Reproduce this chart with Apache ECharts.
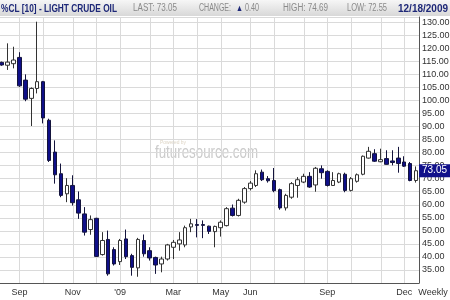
<!DOCTYPE html>
<html><head><meta charset="utf-8">
<script src="https://cdn.jsdelivr.net/npm/echarts@6/dist/echarts.min.js"></script>
<style>html,body{margin:0;padding:0;background:#fff}#c{width:450px;height:300px}</style>
</head><body><div id="c"></div>
<script>
// Weekly bars (week-ending Friday)
const weeks = [
 '2008-08-15','2008-08-22','2008-08-29','2008-09-05','2008-09-12','2008-09-19','2008-09-26',
 '2008-10-03','2008-10-10','2008-10-17','2008-10-24','2008-10-31','2008-11-07','2008-11-14',
 '2008-11-21','2008-11-28','2008-12-05','2008-12-12','2008-12-19','2008-12-26','2009-01-02',
 '2009-01-09','2009-01-16','2009-01-23','2009-01-30','2009-02-06','2009-02-13','2009-02-20',
 '2009-02-27','2009-03-06','2009-03-13','2009-03-20','2009-03-27','2009-04-03','2009-04-10',
 '2009-04-17','2009-04-24','2009-05-01','2009-05-08','2009-05-15','2009-05-22','2009-05-29',
 '2009-06-05','2009-06-12','2009-06-19','2009-06-26','2009-07-03','2009-07-10','2009-07-17',
 '2009-07-24','2009-07-31','2009-08-07','2009-08-14','2009-08-21','2009-08-28','2009-09-04',
 '2009-09-11','2009-09-18','2009-09-25','2009-10-02','2009-10-09','2009-10-16','2009-10-23',
 '2009-10-30','2009-11-06','2009-11-13','2009-11-20','2009-11-27','2009-12-04','2009-12-11',
 '2009-12-18'];
const openP = [114.6,113.5,114.1,116.5,107.8,100.8,104.6,107.2,92.4,80.2,71.9,64.2,67.4,61.9,56.5,50.5,54.8,40.9,46.7,42.8,
 38.2,46.9,40.5,35.8,46.3,42.4,39.8,37.3,39.2,43.7,45.0,44.6,51.5,52.4,52.4,51.8,49.7,51.2,52.0,58.7,
 55.9,61.0,66.2,67.4,72.5,70.0,69.3,65.8,58.8,62.9,67.4,68.7,70.9,67.6,73.8,72.8,67.4,68.7,71.7,65.5,
 69.0,71.7,77.9,79.6,76.5,77.7,76.8,77.9,76.4,75.8,69.3];
const closeP = [113.6,114.7,115.5,105.6,100.5,104.6,107.2,93.3,77.0,71.5,63.6,67.4,60.8,56.8,49.5,54.3,40.2,46.3,33.5,37.3,
 46.3,40.1,36.0,46.7,41.2,39.6,36.9,39.2,44.6,45.6,46.5,51.2,52.7,52.1,52.1,49.8,51.7,53.3,58.5,55.9,
 61.7,66.2,68.3,71.9,69.6,69.2,65.4,58.8,63.6,68.1,69.6,70.9,66.8,74.0,72.3,67.4,69.3,71.9,65.5,70.0,
 71.5,78.6,80.5,76.7,77.3,75.5,76.2,75.8,74.8,69.3,73.05];
const lowP = [113.3,111.7,112.3,105.2,99.7,90.2,102.7,91.2,76.4,68.1,62.9,61.0,59.7,54.6,48.2,48.5,40.0,40.5,32.8,36.7,
 36.9,39.2,32.8,32.4,40.1,38.6,33.5,34.1,38.6,39.2,42.4,43.7,49.5,47.5,47.2,48.8,43.7,47.8,51.7,55.5,
 55.5,60.4,65.5,66.8,69.1,68.5,64.8,58.1,57.8,62.3,62.7,68.3,66.5,65.0,70.0,67.0,67.2,68.3,64.8,65.1,
 68.5,71.3,77.7,76.4,76.3,75.4,75.1,72.3,74.5,69.0,68.5];
const highP = [114.9,121.9,120.6,118.5,110.0,105.0,130.2,107.5,93.0,84.7,75.8,70.2,71.3,65.1,59.1,55.9,55.0,49.5,50.1,43.7,
 46.9,50.5,41.2,47.3,48.6,43.7,40.1,40.1,45.0,46.5,49.5,52.0,54.6,54.5,54.0,52.0,52.0,54.0,59.1,60.1,
 62.3,66.8,69.1,73.2,73.5,71.0,74.1,66.2,64.2,68.7,70.6,71.9,72.5,74.5,75.1,73.2,72.5,72.3,72.3,70.6,
 72.0,78.9,82.2,81.3,81.5,80.9,80.9,82.2,78.6,76.4,74.7];
// x tick labels
const labelWeeks = ['2008-09-05','2008-11-07','2009-01-02','2009-03-06','2009-05-01','2009-06-05','2009-09-04','2009-12-04'];
const labelTexts = ['Sep','Nov',"'09",'Mar','May','Jun','Sep','Dec'];
// y ticks
const yMin = 30, yMax = 132, yStep = 5;
const lastPrice = 73.05;

// vertical grid at the first week of each month (category indices)
const gridIdx = [];
weeks.forEach((w, i) => { if (i > 0 && w.slice(5, 7) !== weeks[i - 1].slice(5, 7)) gridIdx.push(i); });

const mctx = document.createElement('canvas').getContext('2d');
function fitScale(text, font, width) { mctx.font = font; return width / mctx.measureText(text).width; }
function txt(text, x, w, font, fill, y) {
  return { type: 'text', x: x, y: y == null ? 8.5 : y, scaleX: fitScale(text, font, w), z: 10,
    style: { text: text, font: font, fill: fill, verticalAlign: 'middle' } };
}
const F = '"Liberation Sans", Arial, sans-serif';
const navy = '#1e2878';
const grey = '#8a8a8a';
const gridColor = '#dadada';

const chart = echarts.init(document.getElementById('c'), null, { renderer: 'canvas' });
chart.setOption({
  animation: false,
  backgroundColor: '#ffffff',
  grid: { left: -1.26, right: 31, top: 17, bottom: 17, containLabel: false, outerBoundsMode: 'none' },
  xAxis: {
    type: 'category', data: weeks, boundaryGap: true,
    axisLine: { show: true, lineStyle: { color: '#555', width: 1 } },
    axisTick: { show: false },
    splitLine: { show: false },
    axisLabel: {
      interval: (idx, val) => labelWeeks.indexOf(weeks[idx]) >= 0,
      formatter: (val) => labelTexts[labelWeeks.indexOf(val)],
      color: '#333', fontSize: 9, fontFamily: 'Liberation Sans', margin: 5
    }
  },
  yAxis: {
    type: 'value', position: 'right', min: yMin, max: yMax, interval: yStep,
    axisLine: { show: true, lineStyle: { color: '#555', width: 1 } },
    axisTick: { show: false },
    splitLine: { show: true, lineStyle: { color: gridColor, width: 1 } },
    axisLabel: { formatter: v => v.toFixed(2), color: '#333', fontSize: 9, fontFamily: 'Liberation Sans',
      margin: 3, showMaxLabel: false, showMinLabel: false }
  },
  series: [
    {
      type: 'custom', z: 1, silent: true, clip: false,
      data: gridIdx.map(i => [i, yMin]),
      encode: { x: 0, y: 1 },
      renderItem: (params, api) => {
        const bottom = api.coord([api.value(0), yMin]);
        const top = api.coord([api.value(0), yMax]);
        return { type: 'rect', shape: { x: Math.round(bottom[0]), y: top[1], width: 1, height: bottom[1] - top[1] },
          style: { fill: gridColor } };
      }
    },
    {
      type: 'candlestick', z: 2, clip: false, barWidth: 4,
      data: weeks.map((w, i) => [openP[i], closeP[i], lowP[i], highP[i]]),
      itemStyle: { color: '#ffffff', color0: '#0f0f88', borderColor: '#333333', borderColor0: '#14143c', borderWidth: 1 },
      markLine: { symbol: 'none', silent: true, z: 5, animation: false,
        emphasis: { disabled: true },
        data: [{ yAxis: lastPrice, lineStyle: { color: 'rgba(0,0,0,0)', width: 0 },
          label: { show: true, position: 'end', formatter: lastPrice.toFixed(2), color: '#ffffff', backgroundColor: '#11118a',
            padding: [2, 8, 1, 3], fontSize: 10, fontFamily: 'Liberation Sans', distance: 0 } }] }
    }
  ],
  graphic: [
    { type: 'rect', shape: { x: 0, y: 0, width: 450, height: 16 }, z: 9,
      style: { fill: new echarts.graphic.LinearGradient(0, 0, 0, 1, [
        { offset: 0, color: '#f6f6f6' }, { offset: 1, color: '#d8d8d8' }]) } },
    txt('%CL [10] - LIGHT CRUDE OIL', 1, 116, 'bold 11px ' + F, navy),
    txt('LAST: 73.05', 133, 44, '10px ' + F, grey),
    txt('CHANGE:', 199, 32, '10px ' + F, grey),
    txt('\u25B2', 236, 7, '9px ' + F, navy),
    txt('0.40', 245, 14, '10px ' + F, grey),
    txt('HIGH: 74.69', 283, 45, '10px ' + F, grey),
    txt('LOW: 72.55', 347, 40, '10px ' + F, grey),
    txt('12/18/2009', 398, 50, 'bold 11px ' + F, navy),
    txt('Powered by', 160, 26, '5px ' + F, '#ddd4c4', 143),
    { type: 'text', x: 155, y: 153, scaleX: fitScale('futuresource.com', '19px ' + F, 103), z: 0,
      style: { text: 'futuresource.com', font: '19px ' + F, fill: '#cbcbcb', verticalAlign: 'middle' } },
    { type: 'text', x: 433, y: 292.5, z: 10,
      style: { text: 'Weekly', font: '9px ' + F, fill: '#333', align: 'center', verticalAlign: 'middle' } }
  ]
});

// Same month lines again, placed through the axis scale after layout (overlaps exactly if both draw)
try {
  const yTop = chart.convertToPixel({ yAxisIndex: 0 }, yMax);
  const yBot = chart.convertToPixel({ yAxisIndex: 0 }, yMin);
  const extra = [];
  gridIdx.forEach((i, k) => {
    const px = chart.convertToPixel({ xAxisIndex: 0 }, weeks[i]);
    if (isFinite(px) && isFinite(yTop) && isFinite(yBot)) {
      extra.push({ type: 'rect', id: 'vg' + k, z: 1, silent: true,
        shape: { x: Math.round(px), y: yTop, width: 1, height: yBot - yTop }, style: { fill: gridColor } });
    }
  });
  if (extra.length) chart.setOption({ graphic: extra });
} catch (e) { }
</script></body></html>
